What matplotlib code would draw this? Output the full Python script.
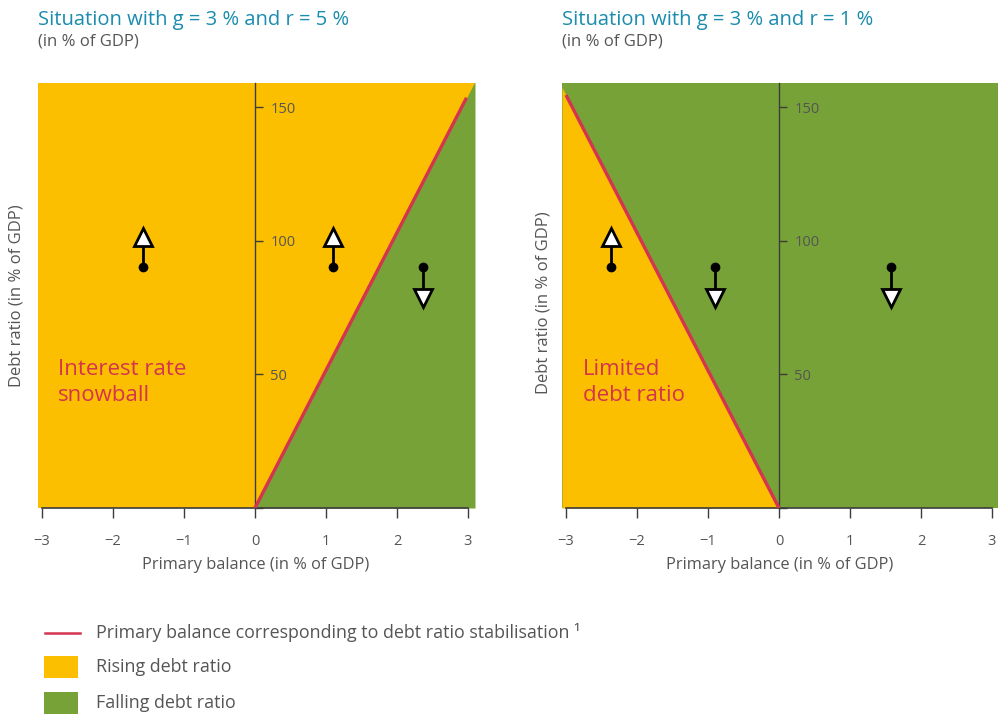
import matplotlib
matplotlib.use("Agg")
import matplotlib.pyplot as plt
from matplotlib.lines import Line2D
from matplotlib.patches import Rectangle

plt.rcParams['font.family'] = ['Open Sans', 'DejaVu Sans']

YELLOW = '#fbbf00'
GREEN = '#77a237'
RED = '#d5344f'
TEAL = '#1a8cae'
GRAY = '#555555'
AXIS = '#3c3c3c'

# values
x_ticks = [-3, -2, -1, 0, 1, 2, 3]
y_ticks = [0, 50, 100, 150]
y_ticklabels = ['', '50', '100', '150']

# left panel: g = 3 %, r = 5 %
left_xlim = (-3.056, 3.099)
left_line_x = [0, 2.98]
left_line_y = [0, 153.5]
left_green_x = [0, 3.099]
left_green_top = [0, 159.6]
left_arrow_x = [-1.58, 1.10, 2.37]
left_arrow_dir = [1, 1, -1]

# right panel: g = 3 %, r = 1 %
right_xlim = (-3.056, 3.085)
right_line_x = [-3.0, 0]
right_line_y = [154.5, 0]
right_yellow_x = [-3.056, 0]
right_yellow_top = [157.4, 0]
right_arrow_x = [-2.37, -0.90, 1.58]
right_arrow_dir = [1, -1, -1]

arrow_start = 90
ymax = 159


def style_axes(ax, xlim):
    ax.set_xlim(xlim)
    ax.set_ylim(0, ymax)
    for s in ['top', 'left']:
        ax.spines[s].set_visible(False)
    ax.spines['right'].set_position(('data', 0))
    ax.spines['right'].set_color(AXIS)
    ax.spines['right'].set_linewidth(1)
    ax.spines['bottom'].set_color(AXIS)
    ax.spines['bottom'].set_linewidth(1.2)
    ax.spines['bottom'].set_bounds(-3, 3)
    ax.yaxis.tick_right()
    ax.set_yticks(y_ticks)
    ax.set_yticklabels(y_ticklabels)
    ax.set_xticks(x_ticks)
    ax.tick_params(axis='y', direction='out', length=6, width=1, pad=5,
                   labelsize=10.5, labelcolor=GRAY, color=AXIS)
    ax.tick_params(axis='x', direction='out', length=7, width=1, pad=12,
                   labelsize=10.5, labelcolor=GRAY, color=AXIS)


def draw_arrows(ax, xs, dirs):
    for x, d in zip(xs, dirs):
        if d > 0:
            ax.plot([x, x], [arrow_start, 98], color='black', lw=2, zorder=4)
            ax.plot(x, 101.5, marker='^', ms=13.5, mfc='white', mec='black', mew=2, zorder=5)
        else:
            ax.plot([x, x], [arrow_start, 82], color='black', lw=2, zorder=4)
            ax.plot(x, 78.5, marker='v', ms=13.5, mfc='white', mec='black', mew=2, zorder=5)
        ax.plot(x, arrow_start, marker='o', ms=6, color='black', zorder=5)


fig = plt.figure(figsize=(9.98, 7.15), dpi=100)

ax1 = fig.add_axes([38 / 998, 1 - 508 / 715, 437 / 998, 425 / 715])
ax1.set_facecolor(YELLOW)
ax1.fill_between(left_green_x, [0, 0], left_green_top, color=GREEN, lw=0, zorder=1)
ax1.plot(left_line_x, left_line_y, color=RED, lw=2.4, zorder=3, solid_capstyle='butt')
style_axes(ax1, left_xlim)
draw_arrows(ax1, left_arrow_x, left_arrow_dir)
ax1.text(-2.78, 55.6, 'Interest rate\nsnowball', color=RED, fontsize=16,
         va='top', ha='left', linespacing=1.28)

ax2 = fig.add_axes([562 / 998, 1 - 508 / 715, 436 / 998, 425 / 715])
ax2.set_facecolor(GREEN)
ax2.fill_between(right_yellow_x, [0, 0], right_yellow_top, color=YELLOW, lw=0, zorder=1)
ax2.plot(right_line_x, right_line_y, color=RED, lw=2.4, zorder=3, solid_capstyle='butt')
style_axes(ax2, right_xlim)
draw_arrows(ax2, right_arrow_x, right_arrow_dir)
ax2.text(-2.76, 55.6, 'Limited\ndebt ratio', color=RED, fontsize=16,
         va='top', ha='left', linespacing=1.28)

# titles
for tx, title in [(38 / 998, 'Situation with g = 3 % and r = 5 %'),
                  (562 / 998, 'Situation with g = 3 % and r = 1 %')]:
    fig.text(tx, 1 - 25 / 715, title, color=TEAL, fontsize=14.5,
             fontweight='medium', va='baseline', ha='left')
    fig.text(tx, 1 - 46 / 715, '(in % of GDP)', color=GRAY, fontsize=12,
             va='baseline', ha='left')

# axis labels
for cx in [256 / 998, 780 / 998]:
    fig.text(cx, 1 - 565 / 715, 'Primary balance (in % of GDP)', color=GRAY,
             fontsize=11.8, ha='center', va='center')
fig.text(17 / 998, 1 - 296 / 715, 'Debt ratio (in % of GDP)', color=GRAY,
         fontsize=12, rotation=90, ha='center', va='center')
fig.text(543 / 998, 1 - 303 / 715, 'Debt ratio (in % of GDP)', color=GRAY,
         fontsize=12, rotation=90, ha='center', va='center')

# legend
fig.add_artist(Line2D([45 / 998, 80 / 998], [1 - 633 / 715] * 2,
                      transform=fig.transFigure, color=RED, lw=1.8))
fig.add_artist(Rectangle((44 / 998, 1 - 678 / 715), 34 / 998, 22 / 715,
                         transform=fig.transFigure, color=YELLOW, lw=0))
fig.add_artist(Rectangle((44 / 998, 1 - 714 / 715), 34 / 998, 22 / 715,
                         transform=fig.transFigure, color=GREEN, lw=0))
fig.text(96 / 998, 1 - 633 / 715, 'Primary balance corresponding to debt ratio stabilisation ¹',
         color=GRAY, fontsize=12.9, va='center', ha='left')
fig.text(96 / 998, 1 - 667 / 715, 'Rising debt ratio', color=GRAY, fontsize=12.9,
         va='center', ha='left')
fig.text(96 / 998, 1 - 703 / 715, 'Falling debt ratio', color=GRAY, fontsize=12.9,
         va='center', ha='left')

fig.savefig('out.png', dpi=100)
